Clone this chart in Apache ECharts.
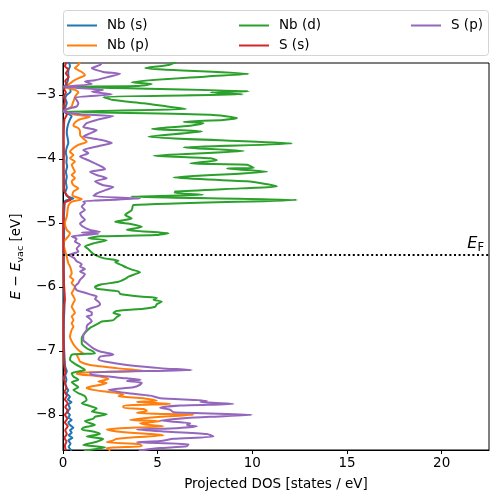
<!DOCTYPE html>
<html>
<head>
<meta charset="utf-8">
<script src="https://cdn.jsdelivr.net/npm/echarts@6/dist/echarts.min.js"></script>
<style>html,body{margin:0;padding:0;background:#fff;}#c{width:498px;height:502px;}</style>
</head>
<body>
<div id="c"></div>
<script>
// [energy (eV), DOS (states/eV)]
var nbS = [[-2.48,0.3],[-2.55,0.37],[-2.62,0.28],[-2.70,0.28],[-2.78,0.25],[-2.84,0.15],[-2.87,0.02],[-2.90,0.37],[-2.95,0.4],[-3.00,0.2],[-3.05,0.12],[-3.12,0.2],[-3.20,0.12],[-3.26,0.03],[-3.30,0.3],[-3.33,0.46],[-3.38,0.37],[-3.45,0.28],[-3.52,0.22],[-3.60,0.2],[-3.68,0.25],[-3.75,0.28],[-3.82,0.2],[-3.90,0.15],[-3.98,0.2],[-4.05,0.18],[-4.12,0.22],[-4.20,0.15],[-4.28,0.2],[-4.36,0.15],[-4.45,0.2],[-4.52,0.12],[-4.58,0.2],[-4.62,0.55],[-4.66,0.1],[-4.75,0.08],[-4.9,0.05],[-5.1,0.06],[-5.3,0.05],[-5.5,0.04],[-5.7,0.04],[-5.9,0.05],[-6.1,0.06],[-6.3,0.08],[-6.5,0.05],[-6.7,0.04],[-6.9,0.05],[-7.1,0.08],[-7.25,0.12],[-7.32,0.2],[-7.38,0.12],[-7.45,0.18],[-7.52,0.12],[-7.58,0.2],[-7.62,0.28],[-7.66,0.18],[-7.72,0.37],[-7.76,0.25],[-7.80,0.45],[-7.84,0.28],[-7.90,0.37],[-7.95,0.2],[-8.00,0.37],[-8.04,0.28],[-8.08,0.46],[-8.12,0.28],[-8.16,0.37],[-8.20,0.55],[-8.24,0.37],[-8.28,0.46],[-8.32,0.3],[-8.36,0.5],[-8.40,0.28],[-8.45,0.4],[-8.50,0.3],[-8.56,0.46]];

var nbP = [[-2.48,0.9],[-2.53,0.81],[-2.58,0.63],[-2.64,0.99],[-2.69,1.16],[-2.74,0.81],[-2.78,0.55],[-2.82,0.37],[-2.87,0.1],[-2.92,0.63],[-2.96,0.81],[-2.99,0.72],[-3.03,0.63],[-3.08,0.58],[-3.13,0.51],[-3.18,0.46],[-3.22,0.23],[-3.26,0.1],[-3.30,0.55],[-3.34,1.43],[-3.38,0.9],[-3.43,0.63],[-3.48,0.55],[-3.52,0.81],[-3.57,0.9],[-3.625,0.9],[-3.68,1.07],[-3.73,1.25],[-3.78,0.81],[-3.83,0.55],[-3.89,0.37],[-3.94,0.55],[-3.99,0.37],[-4.04,0.63],[-4.09,0.46],[-4.15,0.55],[-4.20,0.63],[-4.25,0.46],[-4.30,0.63],[-4.35,0.46],[-4.41,0.55],[-4.46,0.81],[-4.51,0.55],[-4.57,0.5],[-4.63,0.99],[-4.67,0.45],[-4.72,0.3],[-4.78,0.25],[-4.90,0.2],[-5.00,0.1],[-5.11,0.2],[-5.16,0.37],[-5.21,0.28],[-5.27,0.1],[-5.32,0.02],[-5.42,0.1],[-5.53,0.2],[-5.63,0.28],[-5.68,0.37],[-5.79,0.46],[-5.84,0.37],[-5.89,0.55],[-5.94,0.46],[-6.00,0.63],[-6.05,0.55],[-6.10,0.46],[-6.15,0.55],[-6.20,0.63],[-6.25,0.55],[-6.31,0.46],[-6.36,0.55],[-6.41,0.63],[-6.46,0.46],[-6.52,0.55],[-6.57,0.46],[-6.62,0.55],[-6.67,0.46],[-6.78,0.37],[-6.85,0.46],[-6.93,0.63],[-7.01,0.9],[-7.04,1.07],[-7.06,0.72],[-7.11,0.81],[-7.17,0.9],[-7.22,1.43],[-7.27,2.84],[-7.31,4.25],[-7.34,0.9],[-7.36,0.72],[-7.40,1.96],[-7.44,2.4],[-7.48,1.87],[-7.50,2.31],[-7.53,2.0],[-7.56,1.43],[-7.58,1.25],[-7.61,1.6],[-7.64,2.31],[-7.68,3.19],[-7.71,2.93],[-7.74,4.25],[-7.78,4.96],[-7.80,3.9],[-7.83,5.66],[-7.855,3.19],[-7.89,3.19],[-7.91,4.25],[-7.94,4.43],[-7.97,3.9],[-8.00,6.9],[-8.03,5.13],[-8.05,4.43],[-8.08,3.54],[-8.10,5.13],[-8.13,4.07],[-8.16,4.6],[-8.18,5.31],[-8.21,3.02],[-8.23,2.31],[-8.26,2.84],[-8.30,4.6],[-8.32,5.31],[-8.36,3.37],[-8.375,2.84],[-8.41,2.58],[-8.43,2.31],[-8.46,4.07],[-8.49,4.16],[-8.52,2.31],[-8.56,2.5]];

var nbD = [[-2.48,6.0],[-2.53,5.57],[-2.58,4.34],[-2.67,9.80],[-2.71,7.6],[-2.80,3.63],[-2.83,4.69],[-2.86,3.9],[-2.87,0.1],[-2.94,9.8],[-2.96,7.8],[-2.99,9.5],[-3.03,2.13],[-3.08,2.66],[-3.13,4.25],[-3.18,5.49],[-3.22,6.5],[-3.26,0.1],[-3.31,7.78],[-3.36,9.19],[-3.39,8.47],[-3.42,6.37],[-3.44,7.42],[-3.48,6.72],[-3.53,4.69],[-3.57,7.34],[-3.65,4.52],[-3.76,12.1],[-3.82,6.37],[-3.875,9.54],[-3.95,4.78],[-3.99,7.78],[-4.02,8.13],[-4.07,6.72],[-4.09,9.72],[-4.14,10.07],[-4.15,8.66],[-4.20,10.78],[-4.29,5.84],[-4.35,9.72],[-4.43,11.3],[-4.46,9.37],[-4.51,5.93],[-4.53,5.9],[-4.56,7.4],[-4.59,3.6],[-4.64,12.36],[-4.72,3.72],[-4.80,3.63],[-4.875,3.28],[-4.93,3.63],[-4.98,2.75],[-5.02,3.63],[-5.06,4.16],[-5.11,3.37],[-5.16,5.57],[-5.19,4.87],[-5.21,1.96],[-5.24,1.34],[-5.27,2.31],[-5.32,1.6],[-5.37,1.16],[-5.41,1.34],[-5.46,1.5],[-5.50,1.69],[-5.55,2.13],[-5.59,2.93],[-5.61,2.75],[-5.66,3.1],[-5.70,3.37],[-5.73,3.63],[-5.77,4.07],[-5.80,3.81],[-5.84,3.46],[-5.875,3.28],[-5.92,2.93],[-5.96,2.05],[-6.00,1.69],[-6.03,1.78],[-6.07,2.93],[-6.11,3.02],[-6.15,4.07],[-6.17,4.96],[-6.20,4.78],[-6.23,5.22],[-6.27,4.96],[-6.31,4.87],[-6.34,4.25],[-6.375,2.84],[-6.41,2.66],[-6.44,3.02],[-6.47,2.84],[-6.52,2.66],[-6.54,2.05],[-6.57,1.87],[-6.64,1.43],[-6.72,1.16],[-6.80,0.99],[-6.88,0.99],[-6.96,1.25],[-7.01,1.6],[-7.04,1.69],[-7.06,0.46],[-7.14,0.37],[-7.22,0.72],[-7.30,1.16],[-7.35,0.46],[-7.40,0.55],[-7.45,0.81],[-7.49,0.46],[-7.53,0.63],[-7.57,0.81],[-7.61,0.55],[-7.66,0.81],[-7.71,1.16],[-7.77,1.25],[-7.82,0.99],[-7.855,1.34],[-7.90,1.78],[-7.95,1.52],[-7.99,2.31],[-8.03,1.69],[-8.06,1.6],[-8.10,1.16],[-8.16,1.69],[-8.20,1.07],[-8.23,0.99],[-8.26,1.6],[-8.30,1.96],[-8.34,1.25],[-8.375,2.13],[-8.42,1.78],[-8.47,1.07],[-8.51,2.22],[-8.56,1.1]];

var sS = [[-2.48,0.2],[-2.55,0.1],[-2.60,0.28],[-2.66,0.15],[-2.72,0.3],[-2.78,0.12],[-2.85,0.2],[-2.90,0.05],[-2.96,0.15],[-3.02,0.05],[-3.10,0.1],[-3.18,0.05],[-3.26,0.12],[-3.31,0.2],[-3.38,0.08],[-3.5,0.05],[-3.7,0.04],[-3.9,0.05],[-4.1,0.04],[-4.3,0.05],[-4.5,0.06],[-4.6,0.3],[-4.64,0.4],[-4.68,0.1],[-4.8,0.03],[-5.0,0.02],[-5.2,0.02],[-5.5,0.03],[-5.8,0.04],[-6.0,0.06],[-6.2,0.1],[-6.3,0.05],[-6.5,0.03],[-6.8,0.03],[-7.0,0.04],[-7.2,0.06],[-7.35,0.12],[-7.42,0.05],[-7.5,0.1],[-7.58,0.18],[-7.64,0.08],[-7.7,0.2],[-7.76,0.1],[-7.82,0.25],[-7.88,0.12],[-7.94,0.28],[-8.0,0.1],[-8.06,0.22],[-8.12,0.1],[-8.18,0.25],[-8.24,0.12],[-8.3,0.2],[-8.36,0.08],[-8.42,0.18],[-8.48,0.1],[-8.56,0.15]];

var sP = [[-2.48,2.1],[-2.53,1.96],[-2.58,1.52],[-2.64,2.13],[-2.67,3.02],[-2.71,2.49],[-2.77,1.69],[-2.79,1.16],[-2.83,1.52],[-2.87,0.02],[-2.92,2.13],[-2.95,1.52],[-2.99,2.58],[-3.04,0.63],[-3.08,0.72],[-3.13,0.81],[-3.18,0.72],[-3.22,0.2],[-3.26,0.02],[-3.30,0.9],[-3.33,2.66],[-3.39,1.78],[-3.44,1.25],[-3.50,1.07],[-3.55,1.78],[-3.60,1.43],[-3.65,1.07],[-3.70,1.96],[-3.75,2.58],[-3.80,1.87],[-3.86,1.07],[-3.91,1.34],[-3.96,0.9],[-4.02,1.34],[-4.07,1.69],[-4.12,2.05],[-4.16,2.22],[-4.20,1.43],[-4.25,1.78],[-4.30,2.31],[-4.35,1.69],[-4.41,2.13],[-4.44,2.66],[-4.48,2.31],[-4.54,1.78],[-4.58,1.6],[-4.62,4.07],[-4.66,1.07],[-4.69,1.16],[-4.745,0.99],[-4.80,1.16],[-4.85,0.9],[-4.90,0.99],[-4.95,1.16],[-5.01,0.9],[-5.06,1.07],[-5.11,1.43],[-5.14,1.96],[-5.15,0.99],[-5.17,1.87],[-5.21,0.46],[-5.25,0.72],[-5.29,0.63],[-5.34,0.9],[-5.40,0.72],[-5.45,0.81],[-5.50,0.3],[-5.55,0.6],[-5.60,0.72],[-5.645,0.99],[-5.68,0.9],[-5.72,1.16],[-5.76,0.9],[-5.80,1.16],[-5.84,1.07],[-5.89,0.9],[-5.94,0.81],[-6.00,0.63],[-6.05,0.72],[-6.10,1.25],[-6.125,1.52],[-6.15,1.78],[-6.19,1.69],[-6.23,1.87],[-6.27,1.96],[-6.31,1.78],[-6.33,1.52],[-6.36,1.25],[-6.40,1.52],[-6.44,1.52],[-6.46,1.25],[-6.50,1.43],[-6.54,1.52],[-6.58,1.34],[-6.62,1.25],[-6.67,1.25],[-6.75,1.07],[-6.83,1.07],[-6.88,1.25],[-6.96,1.6],[-7.01,1.96],[-7.04,2.49],[-7.06,2.66],[-7.09,1.96],[-7.14,1.87],[-7.19,2.66],[-7.22,3.37],[-7.27,5.13],[-7.30,6.8],[-7.34,1.43],[-7.375,1.5],[-7.43,3.37],[-7.45,4.1],[-7.47,3.37],[-7.50,4.16],[-7.53,4.07],[-7.57,3.72],[-7.61,2.4],[-7.66,3.37],[-7.70,4.6],[-7.74,5.13],[-7.78,7.6],[-7.80,7.25],[-7.83,9.01],[-7.855,6.19],[-7.89,5.13],[-7.92,5.66],[-7.96,5.84],[-8.00,9.98],[-8.03,7.78],[-8.05,6.54],[-8.09,5.13],[-8.13,6.72],[-8.16,6.54],[-8.18,7.07],[-8.21,6.01],[-8.23,3.9],[-8.26,5.31],[-8.30,7.6],[-8.34,7.95],[-8.375,5.84],[-8.41,5.13],[-8.43,3.9],[-8.46,6.63],[-8.49,6.54],[-8.52,5.13],[-8.56,4.0]];

var seriesNames = ['Nb (s)', 'Nb (p)', 'Nb (d)', 'S (s)', 'S (p)'];
var seriesColors = ['#1f77b4', '#ff7f0e', '#2ca02c', '#d62728', '#9467bd'];
var seriesData = [nbS, nbP, nbD, sS, sP];
var xTicks = [0, 5, 10, 15, 20];
var yTicks = [-8, -7, -6, -5, -4, -3];
var fermiLevel = -5.5;

var FONT = 'DejaVu Sans';
var chart = echarts.init(document.getElementById('c'), null, {renderer: 'canvas'});

var series = seriesData.map(function (d, i) {
  return {
    name: seriesNames[i],
    type: 'line',
    data: d.map(function (p) { return [p[1], p[0]]; }),
    showSymbol: false,
    symbol: 'none',
    clip: true,
    smooth: 0.2,
    lineStyle: {color: seriesColors[i], width: 2},
    itemStyle: {color: seriesColors[i]},
    emphasis: {disabled: true},
    animation: false
  };
});
series[4].markLine = {
  silent: true,
  symbol: 'none',
  animation: false,
  lineStyle: {color: '#000', width: 2, type: [2, 2.6]},
  label: {
    show: true,
    position: 'insideEndTop',
    distance: [5, 1],
    formatter: '{e|E}{f|F}',
    rich: {
      e: {fontFamily: FONT, fontStyle: 'italic', fontSize: 16, color: '#000'},
      f: {fontFamily: FONT, fontSize: 11.5, color: '#000', padding: [9, 0, 0, 0]}
    }
  },
  data: [{yAxis: fermiLevel}]
};

function legendAt(left, names) {
  return {
    left: left, top: 13, orient: 'vertical',
    data: names,
    icon: 'rect', itemWidth: 30, itemHeight: 2, itemGap: 5,
    selectedMode: false,
    textStyle: {fontFamily: FONT, fontSize: 13.5, color: '#000', lineHeight: 15, padding: [0, 0, 0, 5]}
  };
}

var minus = function (v) { return (v < 0 ? '\u2212' : '') + Math.abs(v); };

chart.setOption({
  animation: false,
  backgroundColor: '#fff',
  graphic: [{
    type: 'rect', z: -1,
    shape: {x: 63.5, y: 10.5, width: 425, height: 45, r: 3},
    style: {fill: '#fff', stroke: '#d4d4d4', lineWidth: 1}
  }],
  legend: [legendAt(62, ['Nb (s)', 'Nb (p)']), legendAt(234, ['Nb (d)', 'S (s)']), legendAt(406, ['S (p)'])],
  grid: {left: 63, right: 9, top: 63, bottom: 52, show: true, borderColor: '#000', borderWidth: 1, backgroundColor: 'transparent'},
  xAxis: {
    type: 'value', min: 0, max: 22.5,
    name: 'Projected DOS [states / eV]', nameLocation: 'middle', nameGap: 27,
    nameTextStyle: {fontFamily: FONT, fontSize: 13.5, color: '#000'},
    axisLine: {show: true, lineStyle: {color: '#000', width: 1}},
    axisTick: {show: true, inside: false, length: 4, lineStyle: {color: '#000'}, customValues: xTicks},
    axisLabel: {fontFamily: FONT, fontSize: 13.5, color: '#000', margin: 6, customValues: xTicks, formatter: minus},
    splitLine: {show: false}
  },
  yAxis: {
    type: 'value', min: -8.55, max: -2.5,
    name: '{i|E} \u2212 {i|E}{s|vac} [eV]', nameLocation: 'middle', nameGap: 36, nameRotate: 90,
    nameTextStyle: {
      fontFamily: FONT, fontSize: 13.5, color: '#000',
      rich: {
        i: {fontFamily: FONT, fontStyle: 'italic', fontSize: 13.5, color: '#000'},
        s: {fontFamily: FONT, fontSize: 9.5, color: '#000', padding: [7, 0, 0, 0]}
      }
    },
    axisLine: {show: true, onZero: false, lineStyle: {color: '#000', width: 1}},
    axisTick: {show: true, inside: false, length: 4, lineStyle: {color: '#000'}, customValues: yTicks},
    axisLabel: {fontFamily: FONT, fontSize: 13.5, color: '#000', margin: 7, customValues: yTicks, formatter: minus},
    splitLine: {show: false}
  },
  series: series
});
</script>
</body>
</html>
